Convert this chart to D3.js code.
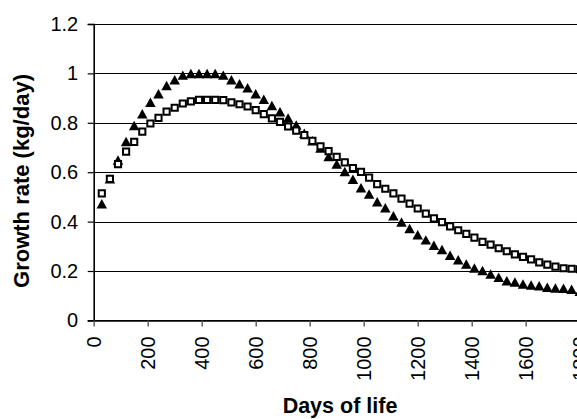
<!DOCTYPE html>
<html>
<head>
<meta charset="utf-8">
<script src="https://cdn.jsdelivr.net/npm/d3@7"></script>
<style>
  html, body { margin: 0; padding: 0; background: #fff; overflow: hidden; }
  svg { display: block; font-family: Arial, "Liberation Sans", sans-serif; }
</style>
</head>
<body>
<svg id="chart" width="577" height="419"></svg>
<script>
// Age of the animal, in days
const days = [30, 60, 90, 120, 150, 180, 210, 240, 270, 300,
  330, 360, 390, 420, 450, 480, 510, 540, 570, 600,
  630, 660, 690, 720, 750, 780, 810, 840, 870, 900,
  930, 960, 990, 1020, 1050, 1080, 1110, 1140, 1170, 1200,
  1230, 1260, 1290, 1320, 1350, 1380, 1410, 1440, 1470, 1500,
  1530, 1560, 1590, 1620, 1650, 1680, 1710, 1740, 1770, 1800];

// Growth rate, filled-triangle series (kg/day)
const growthTriangle = [0.472, 0.573, 0.649, 0.724, 0.789, 0.837, 0.883, 0.918, 0.951, 0.974,
  0.993, 1.000, 1.000, 1.000, 1.000, 0.993, 0.974, 0.958, 0.942, 0.918,
  0.895, 0.870, 0.845, 0.819, 0.791, 0.758, 0.727, 0.698, 0.664, 0.633,
  0.603, 0.571, 0.537, 0.512, 0.480, 0.456, 0.424, 0.398, 0.372, 0.347,
  0.326, 0.304, 0.287, 0.264, 0.246, 0.228, 0.212, 0.202, 0.188, 0.175,
  0.161, 0.155, 0.147, 0.143, 0.140, 0.134, 0.131, 0.130, 0.126, 0.118];

// Growth rate, open-square series (kg/day)
const growthSquare = [0.514, 0.573, 0.633, 0.683, 0.723, 0.764, 0.797, 0.820, 0.845, 0.861,
  0.878, 0.887, 0.893, 0.893, 0.893, 0.892, 0.883, 0.875, 0.866, 0.851,
  0.835, 0.818, 0.804, 0.785, 0.768, 0.750, 0.727, 0.705, 0.685, 0.662,
  0.640, 0.617, 0.601, 0.578, 0.552, 0.533, 0.514, 0.493, 0.473, 0.453,
  0.432, 0.413, 0.398, 0.381, 0.365, 0.350, 0.335, 0.318, 0.307, 0.292,
  0.280, 0.267, 0.257, 0.247, 0.235, 0.226, 0.218, 0.211, 0.209, 0.207];

const xTicks = [0, 200, 400, 600, 800, 1000, 1200, 1400, 1600, 1800];
const yTicks = [0, 0.2, 0.4, 0.6, 0.8, 1.0, 1.2];

const xTitle = "Days of life";
const yTitle = "Growth rate (kg/day)";

const svg = d3.select("#chart");

const plot = { left: 93.7, right: 579.7, top: 24, bottom: 320.4 };

const x = d3.scaleLinear().domain([0, 1800]).range([plot.left, plot.right]);
const y = d3.scaleLinear().domain([0, 1.2]).range([plot.bottom, plot.top]);

// Horizontal gridlines
svg.append("g")
  .selectAll("line")
  .data(yTicks.filter(d => d > 0))
  .join("line")
  .attr("x1", plot.left)
  .attr("x2", plot.right)
  .attr("y1", d => Math.round(y(d)) + 0.5)
  .attr("y2", d => Math.round(y(d)) + 0.5)
  .attr("stroke", "#000")
  .attr("stroke-width", 1.2);

// Y axis
const yAxis = svg.append("g")
  .attr("transform", `translate(${plot.left},0)`)
  .call(d3.axisLeft(y)
    .tickValues(yTicks)
    .tickFormat(d3.format("~g"))
    .tickSize(6)
    .tickPadding(9.5));
yAxis.select(".domain").attr("stroke", "#000").attr("stroke-width", 1.6);
yAxis.selectAll(".tick line").attr("stroke", "#000").attr("stroke-width", 1.2);
yAxis.selectAll(".tick text")
  .attr("font-size", 20)
  .attr("font-family", "Arial, 'Liberation Sans', sans-serif")
  .attr("fill", "#000");

// X axis
const xAxis = svg.append("g")
  .attr("transform", `translate(0,${plot.bottom})`)
  .call(d3.axisBottom(x)
    .tickValues(xTicks)
    .tickFormat(d3.format("d"))
    .tickSize(6)
    .tickSizeOuter(0));
xAxis.select(".domain").attr("stroke", "#000").attr("stroke-width", 1.6);
xAxis.selectAll(".tick line").attr("stroke", "#555").attr("stroke-width", 1.4);
xAxis.selectAll(".tick text")
  .attr("font-size", 20)
  .attr("font-family", "Arial, 'Liberation Sans', sans-serif")
  .attr("fill", "#000")
  .attr("text-anchor", "end")
  .attr("transform", "translate(0,16) rotate(-90)")
  .attr("x", 0)
  .attr("y", 0)
  .attr("dy", "0.36em");

// Axis titles
svg.append("text")
  .attr("x", 340)
  .attr("y", 413)
  .attr("text-anchor", "middle")
  .attr("font-size", 21.5)
  .attr("font-weight", "bold")
  .text(xTitle);

svg.append("text")
  .attr("transform", "translate(29,181) rotate(-90)")
  .attr("text-anchor", "middle")
  .attr("font-size", 22)
  .attr("font-weight", "bold")
  .text(yTitle);

// Marker shapes, both centred on their bounding box
const triangleType = {
  draw(ctx, size) {
    const w = Math.sqrt(size);
    ctx.moveTo(0, -w / 2);
    ctx.lineTo(w / 2 + 0.5, w / 2);
    ctx.lineTo(-w / 2 - 0.5, w / 2);
    ctx.closePath();
  }
};

const triPoints = days.map((d, i) => ({ day: d, value: growthTriangle[i] }));
const sqPoints = days.map((d, i) => ({ day: d, value: growthSquare[i] }));

svg.append("g")
  .selectAll("path")
  .data(triPoints)
  .join("path")
  .attr("transform", d => `translate(${x(d.day)},${y(d.value)})`)
  .attr("d", d3.symbol().type(triangleType).size(90))
  .attr("fill", "#000");

svg.append("g")
  .selectAll("path")
  .data(sqPoints)
  .join("path")
  .attr("transform", d => `translate(${x(d.day)},${y(d.value)})`)
  .attr("d", d3.symbol().type(d3.symbolSquare).size(38))
  .attr("fill", "#fff")
  .attr("stroke", "#000")
  .attr("stroke-width", 2);
</script>
</body>
</html>
